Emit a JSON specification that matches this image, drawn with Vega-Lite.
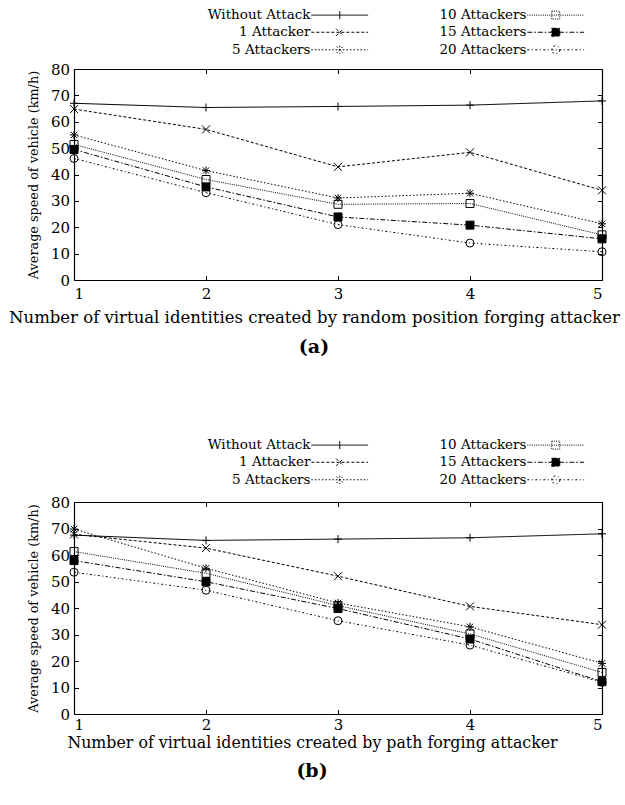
{
  "$schema": "https://vega.github.io/schema/vega-lite/v6.json",
  "padding": {"left": 8, "top": 8, "right": 5, "bottom": 5},
  "background": "white",
  "config": {
    "view": {"stroke": null},
    "font": "DejaVu Serif",
    "axis": {"grid": false, "domainColor": "black", "tickColor": "black", "labelColor": "black", "titleColor": "black", "labelFont": "DejaVu Serif", "titleFont": "DejaVu Serif", "labelFontSize": 15, "titleFontSize": 16.5, "titleFontWeight": "normal", "tickSize": -4.5, "labelPadding": 9, "domainWidth": 1.2, "tickWidth": 1},
    "legend": {"labelFont": "DejaVu Serif"},
    "title": {"font": "DejaVu Serif"}
  },
  "bounds": "flush",
  "spacing": 222,
  "datasets": {
    "a": [
      {"n": 1, "speed": 67.0, "series": "Without Attack"},
      {"n": 2, "speed": 65.4, "series": "Without Attack"},
      {"n": 3, "speed": 65.8, "series": "Without Attack"},
      {"n": 4, "speed": 66.3, "series": "Without Attack"},
      {"n": 5, "speed": 67.9, "series": "Without Attack"},
      {"n": 1, "speed": 64.8, "series": "1 Attacker"},
      {"n": 2, "speed": 57.1, "series": "1 Attacker"},
      {"n": 3, "speed": 42.9, "series": "1 Attacker"},
      {"n": 4, "speed": 48.4, "series": "1 Attacker"},
      {"n": 5, "speed": 34.0, "series": "1 Attacker"},
      {"n": 1, "speed": 55.0, "series": "5 Attackers"},
      {"n": 2, "speed": 41.5, "series": "5 Attackers"},
      {"n": 3, "speed": 31.1, "series": "5 Attackers"},
      {"n": 4, "speed": 32.9, "series": "5 Attackers"},
      {"n": 5, "speed": 21.3, "series": "5 Attackers"},
      {"n": 1, "speed": 51.4, "series": "10 Attackers"},
      {"n": 2, "speed": 38.1, "series": "10 Attackers"},
      {"n": 3, "speed": 28.7, "series": "10 Attackers"},
      {"n": 4, "speed": 29.0, "series": "10 Attackers"},
      {"n": 5, "speed": 17.1, "series": "10 Attackers"},
      {"n": 1, "speed": 49.5, "series": "15 Attackers"},
      {"n": 2, "speed": 35.3, "series": "15 Attackers"},
      {"n": 3, "speed": 23.9, "series": "15 Attackers"},
      {"n": 4, "speed": 20.8, "series": "15 Attackers"},
      {"n": 5, "speed": 15.6, "series": "15 Attackers"},
      {"n": 1, "speed": 46.1, "series": "20 Attackers"},
      {"n": 2, "speed": 33.1, "series": "20 Attackers"},
      {"n": 3, "speed": 21.0, "series": "20 Attackers"},
      {"n": 4, "speed": 14.0, "series": "20 Attackers"},
      {"n": 5, "speed": 10.7, "series": "20 Attackers"}
    ],
    "b": [
      {"n": 1, "speed": 67.5, "series": "Without Attack"},
      {"n": 2, "speed": 65.5, "series": "Without Attack"},
      {"n": 3, "speed": 66.0, "series": "Without Attack"},
      {"n": 4, "speed": 66.5, "series": "Without Attack"},
      {"n": 5, "speed": 68.0, "series": "Without Attack"},
      {"n": 1, "speed": 67.8, "series": "1 Attacker"},
      {"n": 2, "speed": 62.6, "series": "1 Attacker"},
      {"n": 3, "speed": 52.0, "series": "1 Attacker"},
      {"n": 4, "speed": 40.6, "series": "1 Attacker"},
      {"n": 5, "speed": 33.7, "series": "1 Attacker"},
      {"n": 1, "speed": 69.8, "series": "5 Attackers"},
      {"n": 2, "speed": 55.0, "series": "5 Attackers"},
      {"n": 3, "speed": 41.9, "series": "5 Attackers"},
      {"n": 4, "speed": 32.9, "series": "5 Attackers"},
      {"n": 5, "speed": 19.1, "series": "5 Attackers"},
      {"n": 1, "speed": 61.3, "series": "10 Attackers"},
      {"n": 2, "speed": 53.1, "series": "10 Attackers"},
      {"n": 3, "speed": 40.9, "series": "10 Attackers"},
      {"n": 4, "speed": 30.2, "series": "10 Attackers"},
      {"n": 5, "speed": 15.7, "series": "10 Attackers"},
      {"n": 1, "speed": 57.9, "series": "15 Attackers"},
      {"n": 2, "speed": 49.9, "series": "15 Attackers"},
      {"n": 3, "speed": 39.8, "series": "15 Attackers"},
      {"n": 4, "speed": 28.3, "series": "15 Attackers"},
      {"n": 5, "speed": 12.2, "series": "15 Attackers"},
      {"n": 1, "speed": 53.5, "series": "20 Attackers"},
      {"n": 2, "speed": 46.7, "series": "20 Attackers"},
      {"n": 3, "speed": 35.2, "series": "20 Attackers"},
      {"n": 4, "speed": 26.0, "series": "20 Attackers"},
      {"n": 5, "speed": 12.0, "series": "20 Attackers"}
    ]
  },
  "resolve": {
    "scale": {"strokeDash": "independent"},
    "legend": {"strokeDash": "independent"}
  },
  "vconcat": [
    {
      "width": 528,
      "height": 211,
      "data": {"name": "a"},
      "title": {"text": "(a)", "orient": "bottom", "fontSize": 19, "fontWeight": "bold", "color": "black", "offset": 12, "dx": -24},
      "resolve": {"axis": {"x": "independent", "y": "independent"}},
      "layer": [
        {
          "mark": {"type": "line", "stroke": "black", "strokeWidth": 1},
          "encoding": {
            "x": {"field": "n", "type": "quantitative", "scale": {"domain": [1, 5], "nice": false, "zero": false},
              "axis": {"values": [1, 2, 3, 4, 5], "format": "d", "title": "Number of virtual identities created by random position forging attacker", "labelPadding": 11, "titlePadding": 8, "titleX": 240}},
            "y": {"field": "speed", "type": "quantitative", "scale": {"domain": [0, 80], "nice": false},
              "axis": {"values": [0, 10, 20, 30, 40, 50, 60, 70, 80], "title": "Average speed of vehicle (km/h)", "titleFontSize": 12.8, "titlePadding": 10}},
            "strokeDash": {"field": "series", "type": "nominal",
              "scale": {"domain": ["Without Attack", "1 Attacker", "5 Attackers", "10 Attackers", "15 Attackers", "20 Attackers"],
                "range": [[1, 0], [3, 2], [1.5, 2], [1, 1.2], [5, 2, 1.5, 2], [2, 2.5, 1, 2.5]]},
              "legend": {
                "orient": "none", "legendX": 259, "legendY": -61, "columns": 2, "title": null, "padding": 0,
                "labelAlign": "right", "labelOffset": -36, "labelFontSize": 13.5, "labelColor": "black", "labelLimit": 0,
                "symbolSize": 64, "symbolStrokeWidth": 1, "symbolStrokeColor": "black",
                "columnPadding": 68, "rowPadding": 2.5,
                "encode": {"symbols": {"update": {
                  "shape": {"signal": "datum.value === 'Without Attack' ? 'M-7.1,0H7.1M0,-1V1' : datum.value === '1 Attacker' ? 'M-7.1,0H7.1M-0.9,-0.9L0.9,0.9M-0.9,0.9L0.9,-0.9' : datum.value === '5 Attackers' ? 'M-7.1,0H7.1M0,-1V1M-0.8,-0.8L0.8,0.8M-0.8,0.8L0.8,-0.8' : datum.value === '20 Attackers' ? 'M-7.1,0H7.1M1,0A1,1,0,1,1,-1,0A1,1,0,1,1,1,0Z' : 'M-7.1,0H7.1M-1,-1H1V1H-1Z'"},
                  "fill": {"signal": "datum.value === '15 Attackers' ? 'black' : 'transparent'"},
                  "stroke": {"value": "black"},
                  "strokeWidth": {"value": 1},
                  "opacity": {"value": 1}
                }}}
              }}
          }
        },
        {
          "mark": {"type": "point", "stroke": "black", "strokeWidth": 1, "opacity": 1, "size": 64, "filled": false},
          "encoding": {
            "x": {"field": "n", "type": "quantitative", "scale": {"domain": [1, 5], "nice": false, "zero": false},
              "axis": {"orient": "top", "values": [1, 2, 3, 4, 5], "labels": false, "title": null}},
            "y": {"field": "speed", "type": "quantitative", "scale": {"domain": [0, 80], "nice": false},
              "axis": {"orient": "right", "values": [0, 10, 20, 30, 40, 50, 60, 70, 80], "labels": false, "title": null}},
            "shape": {"condition": [
              {"test": "datum.series === 'Without Attack'", "value": "M-1,0H1M0,-1V1"},
              {"test": "datum.series === '1 Attacker'", "value": "M-1,-1L1,1M-1,1L1,-1"},
              {"test": "datum.series === '5 Attackers'", "value": "M-1,0H1M0,-1V1M-0.8,-0.8L0.8,0.8M-0.8,0.8L0.8,-0.8"},
              {"test": "datum.series === '20 Attackers'", "value": "circle"}
            ], "value": "square"},
            "fill": {"condition": {"test": "datum.series === '15 Attackers'", "value": "black"}, "value": "transparent"}
          }
        }
      ]
    },
    {
      "width": 528,
      "height": 212,
      "data": {"name": "b"},
      "title": {"text": "(b)", "orient": "bottom", "fontSize": 19, "fontWeight": "bold", "color": "black", "offset": 12, "dx": -26},
      "resolve": {"axis": {"x": "independent", "y": "independent"}},
      "layer": [
        {
          "mark": {"type": "line", "stroke": "black", "strokeWidth": 1},
          "encoding": {
            "x": {"field": "n", "type": "quantitative", "scale": {"domain": [1, 5], "nice": false, "zero": false},
              "axis": {"values": [1, 2, 3, 4, 5], "format": "d", "title": "Number of virtual identities created by path forging attacker", "titleFontSize": 15.8, "labelPadding": 8, "titlePadding": 3, "titleX": 238}},
            "y": {"field": "speed", "type": "quantitative", "scale": {"domain": [0, 80], "nice": false},
              "axis": {"values": [0, 10, 20, 30, 40, 50, 60, 70, 80], "title": "Average speed of vehicle (km/h)", "titleFontSize": 12.8, "titlePadding": 10}},
            "strokeDash": {"field": "series", "type": "nominal",
              "scale": {"domain": ["Without Attack", "1 Attacker", "5 Attackers", "10 Attackers", "15 Attackers", "20 Attackers"],
                "range": [[1, 0], [3, 2], [1.5, 2], [1, 1.2], [5, 2, 1.5, 2], [2, 2.5, 1, 2.5]]},
              "legend": {
                "orient": "none", "legendX": 259, "legendY": -64, "columns": 2, "title": null, "padding": 0,
                "labelAlign": "right", "labelOffset": -36, "labelFontSize": 13.5, "labelColor": "black", "labelLimit": 0,
                "symbolSize": 64, "symbolStrokeWidth": 1, "symbolStrokeColor": "black",
                "columnPadding": 68, "rowPadding": 2.5,
                "encode": {"symbols": {"update": {
                  "shape": {"signal": "datum.value === 'Without Attack' ? 'M-7.1,0H7.1M0,-1V1' : datum.value === '1 Attacker' ? 'M-7.1,0H7.1M-0.9,-0.9L0.9,0.9M-0.9,0.9L0.9,-0.9' : datum.value === '5 Attackers' ? 'M-7.1,0H7.1M0,-1V1M-0.8,-0.8L0.8,0.8M-0.8,0.8L0.8,-0.8' : datum.value === '20 Attackers' ? 'M-7.1,0H7.1M1,0A1,1,0,1,1,-1,0A1,1,0,1,1,1,0Z' : 'M-7.1,0H7.1M-1,-1H1V1H-1Z'"},
                  "fill": {"signal": "datum.value === '15 Attackers' ? 'black' : 'transparent'"},
                  "stroke": {"value": "black"},
                  "strokeWidth": {"value": 1},
                  "opacity": {"value": 1}
                }}}
              }}
          }
        },
        {
          "mark": {"type": "point", "stroke": "black", "strokeWidth": 1, "opacity": 1, "size": 64, "filled": false},
          "encoding": {
            "x": {"field": "n", "type": "quantitative", "scale": {"domain": [1, 5], "nice": false, "zero": false},
              "axis": {"orient": "top", "values": [1, 2, 3, 4, 5], "labels": false, "title": null}},
            "y": {"field": "speed", "type": "quantitative", "scale": {"domain": [0, 80], "nice": false},
              "axis": {"orient": "right", "values": [0, 10, 20, 30, 40, 50, 60, 70, 80], "labels": false, "title": null}},
            "shape": {"condition": [
              {"test": "datum.series === 'Without Attack'", "value": "M-1,0H1M0,-1V1"},
              {"test": "datum.series === '1 Attacker'", "value": "M-1,-1L1,1M-1,1L1,-1"},
              {"test": "datum.series === '5 Attackers'", "value": "M-1,0H1M0,-1V1M-0.8,-0.8L0.8,0.8M-0.8,0.8L0.8,-0.8"},
              {"test": "datum.series === '20 Attackers'", "value": "circle"}
            ], "value": "square"},
            "fill": {"condition": {"test": "datum.series === '15 Attackers'", "value": "black"}, "value": "transparent"}
          }
        }
      ]
    }
  ]
}
